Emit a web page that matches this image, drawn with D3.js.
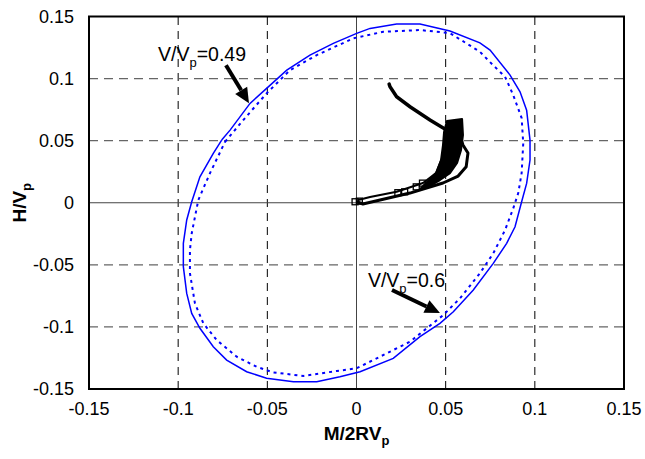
<!DOCTYPE html>
<html>
<head>
<meta charset="utf-8">
<script src="https://cdn.jsdelivr.net/npm/d3@7"></script>
<style>
  body { margin: 0; background: #fff; }
  text { font-family: Arial, "Liberation Sans", sans-serif; }
</style>
</head>
<body>
<svg id="chart" width="645" height="459"></svg>
<script>
const xTicks = [-0.15, -0.1, -0.05, 0, 0.05, 0.1, 0.15]
const yTicks = [-0.15, -0.1, -0.05, 0, 0.05, 0.1, 0.15]

// yield surface, solid
const solidX = [-0.0756, -0.0709, -0.0597, -0.0504, -0.0391, -0.0261, -0.0130, 0.0001, 0.0076, 0.0225, 0.0356, 0.0524,
  0.0692, 0.0749, 0.0861, 0.0917, 0.0954, 0.0973, 0.0973, 0.0954, 0.0926, 0.0889, 0.0842, 0.0767, 0.0655, 0.0543, 0.0468,
  0.0356, 0.0206, 0.0020, -0.0093, -0.0223, -0.0354, -0.0504, -0.0616, -0.0728, -0.0803, -0.0878, -0.0924, -0.0952,
  -0.0971, -0.0971, -0.0952, -0.0924, -0.0878, -0.0803, -0.0756]
const solidY = [0.0505, 0.0585, 0.0800, 0.0921, 0.1068, 0.1189, 0.1284, 0.1364, 0.1404, 0.1439, 0.1439, 0.1383,
  0.1288, 0.1230, 0.1028, 0.0894, 0.0746, 0.0505, 0.0344, 0.0156, 0.0008, -0.0193, -0.0327, -0.0488, -0.0703, -0.0878, -0.0971,
  -0.1079, -0.1253, -0.1361, -0.1401, -0.1441, -0.1441, -0.1414, -0.1361, -0.1267, -0.1160, -0.1011, -0.0891, -0.0730,
  -0.0515, -0.0327, -0.0139, 0.0008, 0.0209, 0.0398, 0.0505]

// yield surface, dotted
const dottedX = [-0.0737, -0.0635, -0.0504, -0.0373, -0.0223, -0.0018, 0.0150, 0.0356, 0.0524, 0.0692, 0.0765, 0.0833,
  0.0879, 0.0926, 0.0935, 0.0926, 0.0907, 0.0879, 0.0833, 0.0767, 0.0692, 0.0580, 0.0487, 0.0300, 0.0113, 0.0001,
  -0.0111, -0.0298, -0.0467, -0.0560, -0.0672, -0.0784, -0.0859, -0.0906, -0.0934, -0.0934, -0.0924, -0.0887, -0.0822, -0.0737]
const dottedY = [0.0491, 0.0666, 0.0881, 0.1068, 0.1189, 0.1324, 0.1377, 0.1391, 0.1366, 0.1216, 0.1109, 0.1015,
  0.0867, 0.0682, 0.0478, 0.0239, 0.0078, -0.0045, -0.0220, -0.0407, -0.0568, -0.0770, -0.0904, -0.1119, -0.1253, -0.1333,
  -0.1355, -0.1395, -0.1366, -0.1321, -0.1240, -0.1106, -0.0971, -0.0810, -0.0568, -0.0381, -0.0246, 0.0022, 0.0237, 0.0491]

// measured load path
const lowerX = [0.0001, 0.0036, 0.0132, 0.0300, 0.0485, 0.0570, 0.0615, 0.0625, 0.0597, 0.0580, 0.0585]
const lowerY = [0.0008, -0.0010, 0.0022, 0.0078, 0.0159, 0.0215, 0.0290, 0.0400, 0.0465, 0.0545, 0.0660]
const upperX = [0.0005, 0.0076, 0.0225, 0.0373, 0.0446, 0.0491]
const upperY = [0.0020, 0.0046, 0.0089, 0.0159, 0.0239, 0.0400]
const blobX = [0.0507, 0.0592, 0.0597, 0.0586, 0.0564, 0.0524, 0.0468, 0.0412, 0.0356, 0.0384, 0.0446, 0.0474, 0.0485, 0.0491]
const blobY = [0.0658, 0.0674, 0.0545, 0.0424, 0.0320, 0.0239, 0.0183, 0.0135, 0.0110, 0.0151, 0.0239, 0.0344, 0.0465, 0.0569]
const tailX = [0.0505, 0.0412, 0.0300, 0.0225, 0.0188, 0.0183]
const tailY = [0.0586, 0.0666, 0.0773, 0.0854, 0.0934, 0.0955]
const markX = [-0.0008, 0.0016, 0.0232, 0.0270, 0.0335, 0.0370]
const markY = [0.0008, 0.0013, 0.0081, 0.0088, 0.0128, 0.0158]

const labelText = ['V/V', 'p', '=0.49', 'V/V', 'p', '=0.6']
const labelX = [-0.1113, 0.0064]
const labelY = [0.1141, -0.0679]
const arrowX0 = [-0.0732, 0.0199]
const arrowY0 = [0.1108, -0.0703]
const arrowX1 = [-0.0603, 0.0468]
const arrowY1 = [0.0802, -0.0888]

const svg = d3.select('#chart')
const margin = { top: 16.5, right: 21, bottom: 70, left: 89 }
const width = 645 - margin.left - margin.right
const height = 459 - margin.top - margin.bottom

const x = d3.scaleLinear().domain([-0.15, 0.15]).range([margin.left, margin.left + width])
const y = d3.scaleLinear().domain([-0.15, 0.15]).range([margin.top + height, margin.top])

// grid
const inner = xTicks.filter(function (t) { return t !== 0 && Math.abs(t) < 0.15 })
svg.append('g').selectAll('line').data(inner).enter().append('line')
  .attr('x1', x(-0.15)).attr('x2', x(0.15))
  .attr('y1', function (d) { return y(d) }).attr('y2', function (d) { return y(d) })
  .attr('stroke', '#666').attr('stroke-width', 1.3).attr('stroke-dasharray', '9,6')
svg.append('g').selectAll('line').data(inner).enter().append('line')
  .attr('y1', y(-0.15)).attr('y2', y(0.15))
  .attr('x1', function (d) { return x(d) }).attr('x2', function (d) { return x(d) })
  .attr('stroke', '#000').attr('stroke-width', 1).attr('stroke-dasharray', '8,6')
svg.append('line').attr('x1', x(-0.15)).attr('x2', x(0.15)).attr('y1', y(0)).attr('y2', y(0))
  .attr('stroke', '#444').attr('stroke-width', 1)
svg.append('line').attr('y1', y(-0.15)).attr('y2', y(0.15)).attr('x1', x(0)).attr('x2', x(0))
  .attr('stroke', '#444').attr('stroke-width', 1)

// frame
svg.append('rect').attr('x', x(-0.15)).attr('y', y(0.15))
  .attr('width', width).attr('height', height)
  .attr('fill', 'none').attr('stroke', '#000').attr('stroke-width', 2)

// tick labels
svg.append('g').selectAll('text').data(yTicks).enter().append('text')
  .attr('x', x(-0.15) - 15).attr('y', function (d) { return y(d) })
  .attr('dy', '0.36em').attr('text-anchor', 'end').attr('font-size', 18)
  .text(function (d) { return String(d) })
svg.append('g').selectAll('text').data(xTicks).enter().append('text')
  .attr('x', function (d) { return x(d) }).attr('y', y(-0.15) + 26)
  .attr('text-anchor', 'middle').attr('font-size', 18)
  .text(function (d) { return String(d) })

// axis titles
const xt = svg.append('text').attr('x', x(0)).attr('y', y(-0.15) + 51)
  .attr('text-anchor', 'middle').attr('font-size', 19).attr('font-weight', 'bold')
xt.append('tspan').text('M/2RV')
xt.append('tspan').attr('font-size', 13).attr('dy', 5).text('p')
const yt = svg.append('text').attr('transform', 'translate(26,' + y(0) + ') rotate(-90)')
  .attr('text-anchor', 'middle').attr('font-size', 19).attr('font-weight', 'bold')
yt.append('tspan').text('H/V')
yt.append('tspan').attr('font-size', 13).attr('dy', 5).text('p')

const pts = function (xs, ys) { return xs.map(function (v, i) { return [v, ys[i]] }) }
const line = d3.line().x(function (d) { return x(d[0]) }).y(function (d) { return y(d[1]) })

// yield surfaces
svg.append('path').attr('d', line(pts(dottedX, dottedY)))
  .attr('fill', 'none').attr('stroke', '#0000ff').attr('stroke-width', 2).attr('stroke-dasharray', '3,4')
svg.append('path').attr('d', line(pts(solidX, solidY)))
  .attr('fill', 'none').attr('stroke', '#0000ff').attr('stroke-width', 1.5)

// load path
svg.append('path').attr('d', line(pts(blobX, blobY)) + 'Z')
  .attr('fill', '#000').attr('stroke', '#000').attr('stroke-width', 2).attr('stroke-linejoin', 'round')
svg.append('path').attr('d', line(pts(lowerX, lowerY)))
  .attr('fill', 'none').attr('stroke', '#000').attr('stroke-width', 3).attr('stroke-linejoin', 'round')
svg.append('path').attr('d', line(pts(upperX, upperY)))
  .attr('fill', 'none').attr('stroke', '#000').attr('stroke-width', 2).attr('stroke-linejoin', 'round')
svg.append('path').attr('d', line(pts(tailX, tailY)))
  .attr('fill', 'none').attr('stroke', '#000').attr('stroke-width', 3.5).attr('stroke-linecap', 'round')
svg.append('g').selectAll('rect').data(pts(markX, markY)).enter().append('rect')
  .attr('x', function (d) { return x(d[0]) - 3 }).attr('y', function (d) { return y(d[1]) - 3 })
  .attr('width', 6).attr('height', 6)
  .attr('fill', 'none').attr('stroke', '#000').attr('stroke-width', 1.3)

// annotations
for (let i = 0; i < 2; i++) {
  const t = svg.append('text').attr('x', x(labelX[i])).attr('y', y(labelY[i])).attr('font-size', 19.5)
  t.append('tspan').text(labelText[i * 3])
  t.append('tspan').attr('font-size', 13).attr('dy', 6).text(labelText[i * 3 + 1])
  t.append('tspan').attr('dy', -6).text(labelText[i * 3 + 2])

  const x0 = x(arrowX0[i]), y0 = y(arrowY0[i])
  const x1 = x(arrowX1[i]), y1 = y(arrowY1[i])
  const len = Math.hypot(x1 - x0, y1 - y0)
  const ux = (x1 - x0) / len, uy = (y1 - y0) / len
  const hl = 15, hw = 7
  const bx = x1 - ux * hl, by = y1 - uy * hl
  svg.append('line').attr('x1', x0).attr('y1', y0).attr('x2', bx).attr('y2', by)
    .attr('stroke', '#000').attr('stroke-width', 4)
  svg.append('path')
    .attr('d', 'M' + x1 + ',' + y1 + 'L' + (bx - uy * hw) + ',' + (by + ux * hw) + 'L' + (bx + uy * hw) + ',' + (by - ux * hw) + 'Z')
    .attr('fill', '#000')
}
</script>
</body>
</html>
